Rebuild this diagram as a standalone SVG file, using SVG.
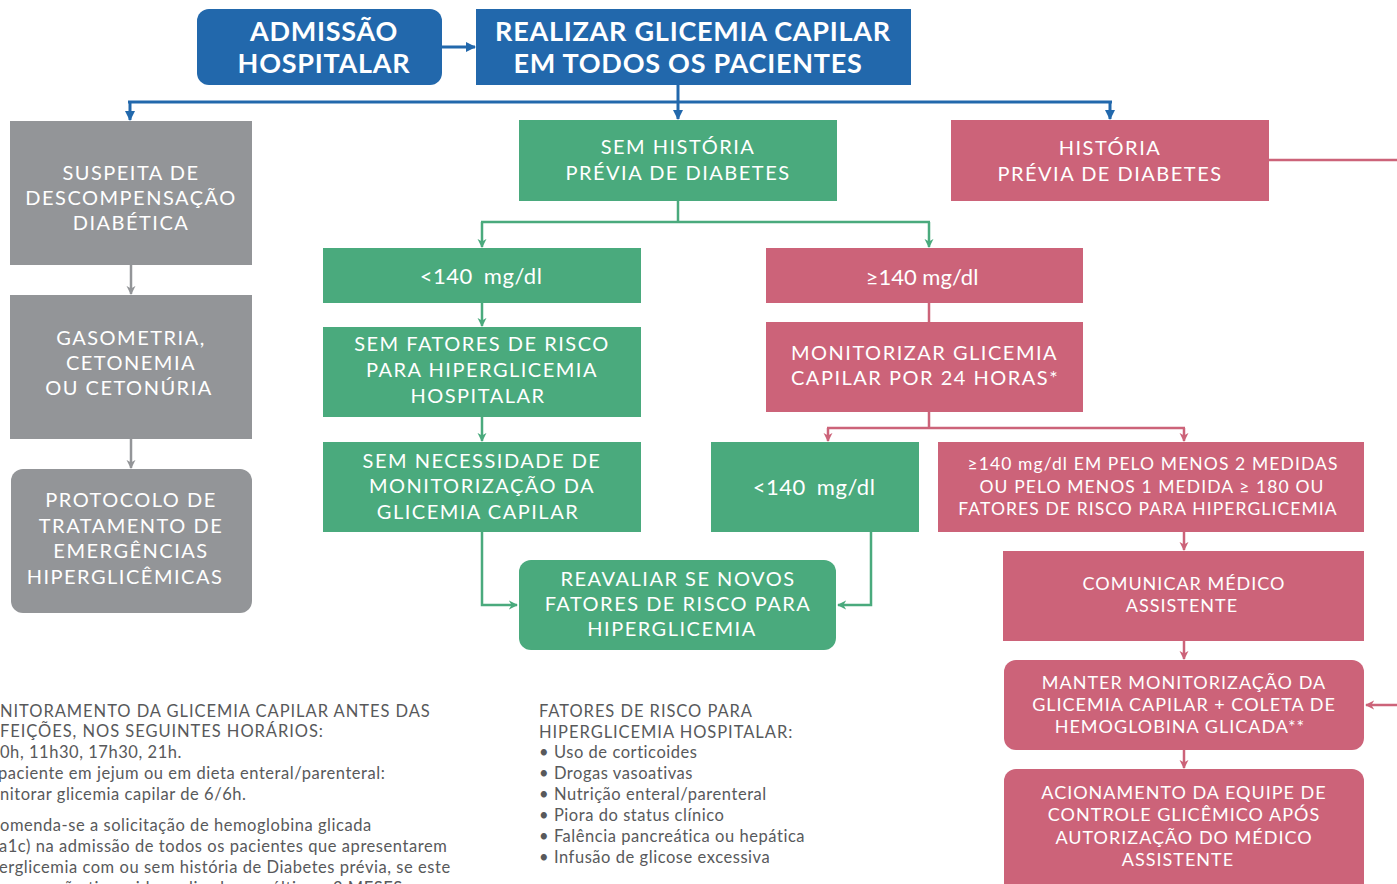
<svg xmlns="http://www.w3.org/2000/svg" width="1397" height="884" viewBox="0 0 1397 884">
<defs>
<style>
.t{font-family:Lato,"Open Sans","Liberation Sans",sans-serif;fill:#fff;text-anchor:middle}
.h{font-size:27px;font-weight:bold;letter-spacing:0.75px}
.b{font-size:20px;letter-spacing:1.5px}
.s{font-size:18px;letter-spacing:1px}
.x{font-size:17.5px;letter-spacing:1.1px}
.v{font-size:22px;letter-spacing:0.5px}
.n{font-family:Lato,"Open Sans","Liberation Sans",sans-serif;fill:#58595b;font-size:16.5px;letter-spacing:0.55px}
.nc{letter-spacing:0.95px}
.blue{fill:#2268ac}.green{fill:#4aaa7d}.red{fill:#cc6379}.gray{fill:#939598}
.cb{fill:none;stroke:#2268ac;stroke-width:3}
.cg{fill:none;stroke:#4aaa7d;stroke-width:2.5}
.cr{fill:none;stroke:#cc6379;stroke-width:2.5}
.cy{fill:none;stroke:#939598;stroke-width:2.5}
</style>
<marker id="ab" viewBox="0 0 10 10" refX="9" refY="5" markerWidth="10" markerHeight="11" markerUnits="userSpaceOnUse" orient="auto"><path d="M0,0 L10,5 L0,10 z" fill="#2268ac"/></marker>
<marker id="ag" viewBox="0 0 10 10" refX="9" refY="5" markerWidth="9" markerHeight="10" markerUnits="userSpaceOnUse" orient="auto"><path d="M0,0 L10,5 L0,10 L3,5 z" fill="#4aaa7d"/></marker>
<marker id="ar" viewBox="0 0 10 10" refX="9" refY="5" markerWidth="9" markerHeight="10" markerUnits="userSpaceOnUse" orient="auto"><path d="M0,0 L10,5 L0,10 L3,5 z" fill="#cc6379"/></marker>
<marker id="ay" viewBox="0 0 10 10" refX="9" refY="5" markerWidth="9" markerHeight="10" markerUnits="userSpaceOnUse" orient="auto"><path d="M0,0 L10,5 L0,10 L3,5 z" fill="#939598"/></marker>
</defs>
<rect width="1397" height="884" fill="#fff"/>

<g id="connectors">
<path class="cb" d="M442,47 H475" marker-end="url(#ab)"/>
<path class="cb" d="M678,85 V119" marker-end="url(#ab)"/>
<path class="cb" d="M128,102 H1112"/>
<path class="cb" d="M130,102 V120" marker-end="url(#ab)"/>
<path class="cb" d="M1110,102 V119" marker-end="url(#ab)"/>
<path class="cy" d="M131,265 V294" marker-end="url(#ay)"/>
<path class="cy" d="M131,439 V468" marker-end="url(#ay)"/>
<path class="cg" d="M678,201 V222 M481,222 H930"/>
<path class="cg" d="M482,222 V247" marker-end="url(#ag)"/>
<path class="cg" d="M929,222 V247" marker-end="url(#ag)"/>
<path class="cg" d="M482,303 V326" marker-end="url(#ag)"/>
<path class="cg" d="M482,417 V441" marker-end="url(#ag)"/>
<path class="cg" d="M482,532 V605 H517" marker-end="url(#ag)"/>
<path class="cg" d="M871,532 V605 H838" marker-end="url(#ag)"/>
<path class="cr" d="M1269,160 H1397"/>
<path class="cr" d="M929,303 V322 M929,412 V428 M827,428 H1185"/>
<path class="cr" d="M828,428 V441" marker-end="url(#ar)"/>
<path class="cr" d="M1184,428 V441" marker-end="url(#ar)"/>
<path class="cr" d="M1184,532 V550" marker-end="url(#ar)"/>
<path class="cr" d="M1184,641 V659" marker-end="url(#ar)"/>
<path class="cr" d="M1397,705 H1366" marker-end="url(#ar)"/>
<path class="cr" d="M1184,750 V768" marker-end="url(#ar)"/>
</g>

<g id="admissao">
<rect class="blue" x="197" y="9" width="245" height="76" rx="12"/>
<text class="t h" x="324" y="41">ADMISSÃO</text>
<text class="t h" x="324" y="73">HOSPITALAR</text>
</g>
<g id="realizar">
<rect class="blue" x="476" y="9" width="435" height="76"/>
<text class="t h" x="693" y="41">REALIZAR GLICEMIA CAPILAR</text>
<text class="t h" x="688" y="73">EM TODOS OS PACIENTES</text>
</g>

<g id="suspeita">
<rect class="gray" x="10" y="121" width="242" height="144"/>
<text class="t b" x="131" y="180">SUSPEITA DE</text>
<text class="t b" x="131" y="205">DESCOMPENSAÇÃO</text>
<text class="t b" x="131" y="230">DIABÉTICA</text>
</g>
<g id="gasometria">
<rect class="gray" x="10" y="295" width="242" height="144"/>
<text class="t b" x="131" y="345">GASOMETRIA,</text>
<text class="t b" x="131" y="370">CETONEMIA</text>
<text class="t b" x="129" y="395">OU CETONÚRIA</text>
</g>
<g id="protocolo">
<rect class="gray" x="11" y="469" width="241" height="144" rx="12"/>
<text class="t b" x="131" y="507">PROTOCOLO DE</text>
<text class="t b" x="131" y="533">TRATAMENTO DE</text>
<text class="t b" x="131" y="558">EMERGÊNCIAS</text>
<text class="t b" x="125" y="584">HIPERGLICÊMICAS</text>
</g>

<g id="sem-historia">
<rect class="green" x="519" y="120" width="318" height="81"/>
<text class="t b" x="678" y="154">SEM HISTÓRIA</text>
<text class="t b" x="678" y="180">PRÉVIA DE DIABETES</text>
</g>
<g id="historia">
<rect class="red" x="951" y="120" width="318" height="81"/>
<text class="t b" x="1110" y="155">HISTÓRIA</text>
<text class="t b" x="1110" y="181">PRÉVIA DE DIABETES</text>
</g>

<g id="menor140a">
<rect class="green" x="323" y="248" width="318" height="55"/>
<text class="t v" x="481" y="284" word-spacing="5">&lt;140 mg/dl</text>
</g>
<g id="sem-fatores">
<rect class="green" x="323" y="327" width="318" height="90"/>
<text class="t b" x="482" y="351">SEM FATORES DE RISCO</text>
<text class="t b" x="482" y="377">PARA HIPERGLICEMIA</text>
<text class="t b" x="478" y="403">HOSPITALAR</text>
</g>
<g id="sem-necessidade">
<rect class="green" x="323" y="442" width="318" height="90"/>
<text class="t b" x="482" y="468">SEM NECESSIDADE DE</text>
<text class="t b" x="482" y="493">MONITORIZAÇÃO DA</text>
<text class="t b" x="478" y="519">GLICEMIA CAPILAR</text>
</g>
<g id="reavaliar">
<rect class="green" x="519" y="560" width="317" height="90" rx="12"/>
<text class="t b" x="678" y="586">REAVALIAR SE NOVOS</text>
<text class="t b" x="678" y="611">FATORES DE RISCO PARA</text>
<text class="t b" x="672" y="636">HIPERGLICEMIA</text>
</g>

<g id="maior140">
<rect class="red" x="766" y="248" width="317" height="55"/>
<text class="t v" x="922" y="285" style="letter-spacing:0">≥140 mg/dl</text>
</g>
<g id="monitorizar">
<rect class="red" x="766" y="322" width="317" height="90"/>
<text class="t b" x="791" y="360" style="text-anchor:start">MONITORIZAR GLICEMIA</text>
<text class="t b" x="791" y="385" style="text-anchor:start">CAPILAR POR 24 HORAS*</text>
</g>
<g id="menor140b">
<rect class="green" x="711" y="442" width="208" height="90"/>
<text class="t v" x="814" y="495" word-spacing="5">&lt;140 mg/dl</text>
</g>
<g id="maior140-medidas">
<rect class="red" x="938" y="442" width="426" height="90"/>
<text class="t x" x="1153" y="470">≥140 mg/dl EM PELO MENOS 2 MEDIDAS</text>
<text class="t x" x="1152" y="493">OU PELO MENOS 1 MEDIDA ≥ 180 OU</text>
<text class="t x" x="1148" y="515">FATORES DE RISCO PARA HIPERGLICEMIA</text>
</g>
<g id="comunicar">
<rect class="red" x="1003" y="551" width="361" height="90"/>
<text class="t s" x="1184" y="590">COMUNICAR MÉDICO</text>
<text class="t s" x="1182" y="612">ASSISTENTE</text>
</g>
<g id="manter">
<rect class="red" x="1004" y="660" width="360" height="90" rx="12"/>
<text class="t s" x="1184" y="689">MANTER MONITORIZAÇÃO DA</text>
<text class="t s" x="1184" y="711">GLICEMIA CAPILAR + COLETA DE</text>
<text class="t s" x="1180" y="733">HEMOGLOBINA GLICADA**</text>
</g>
<g id="acionamento">
<rect class="red" x="1004" y="769" width="360" height="130" rx="12"/>
<text class="t s" x="1184" y="799">ACIONAMENTO DA EQUIPE DE</text>
<text class="t s" x="1184" y="821">CONTROLE GLICÊMICO APÓS</text>
<text class="t s" x="1184" y="844">AUTORIZAÇÃO DO MÉDICO</text>
<text class="t s" x="1178" y="866">ASSISTENTE</text>
</g>

<g id="nota-monitoramento">
<text class="n nc" x="0" y="717">NITORAMENTO DA GLICEMIA CAPILAR ANTES DAS</text>
<text class="n nc" x="0" y="737">FEIÇÕES, NOS SEGUINTES HORÁRIOS:</text>
<text class="n" x="0" y="758">0h, 11h30, 17h30, 21h.</text>
<text class="n" x="-2" y="779">paciente em jejum ou em dieta enteral/parenteral:</text>
<text class="n" x="0" y="800">nitorar glicemia capilar de 6/6h.</text>
<text class="n" x="0" y="831">omenda-se a solicitação de hemoglobina glicada</text>
<text class="n" x="-1" y="852">a1c) na admissão de todos os pacientes que apresentarem</text>
<text class="n" x="-1" y="873">erglicemia com ou sem história de Diabetes prévia, se este</text>
<text class="n" x="0" y="894">exame não tiver sido realizado nos últimos 3 MESES</text>
</g>
<g id="nota-fatores">
<text class="n nc" x="539" y="717">FATORES DE RISCO PARA</text>
<text class="n nc" x="539" y="738">HIPERGLICEMIA HOSPITALAR:</text>
<text class="n" x="539" y="758">• Uso de corticoides</text>
<text class="n" x="539" y="779">• Drogas vasoativas</text>
<text class="n" x="539" y="800">• Nutrição enteral/parenteral</text>
<text class="n" x="539" y="821">• Piora do status clínico</text>
<text class="n" x="539" y="842">• Falência pancreática ou hepática</text>
<text class="n" x="539" y="863">• Infusão de glicose excessiva</text>
</g>
</svg>
